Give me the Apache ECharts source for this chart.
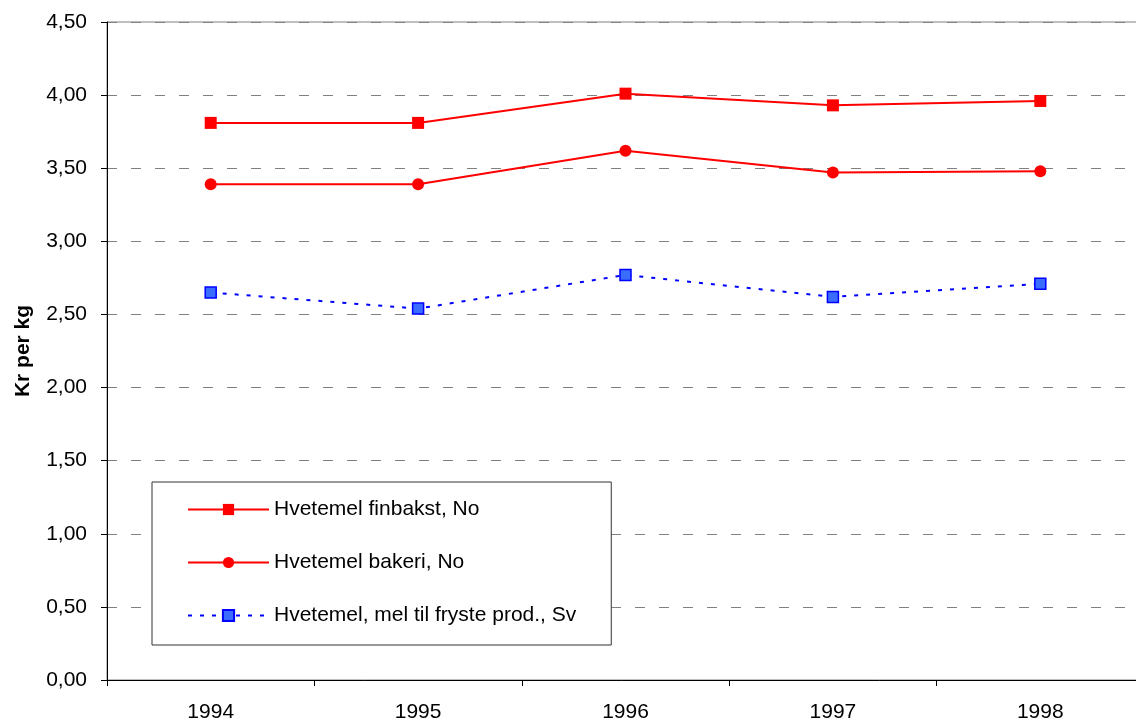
<!DOCTYPE html>
<html>
<head>
<meta charset="utf-8">
<script src="https://cdn.jsdelivr.net/npm/echarts@6/dist/echarts.min.js"></script>
<style>
  html, body { margin: 0; padding: 0; background: #fff; }
  #chart { width: 1136px; height: 724px; }
</style>
</head>
<body>
<div id="chart"></div>
<script>
const years = ['1994', '1995', '1996', '1997', '1998'];
const finbakst = [3.81, 3.81, 4.01, 3.93, 3.96];
const bakeri = [3.39, 3.39, 3.62, 3.47, 3.48];
const frysteProd = [2.65, 2.54, 2.77, 2.62, 2.71];

const chart = echarts.init(document.getElementById('chart'));

chart.setOption({
    animation: false,
    textStyle: { fontFamily: 'Liberation Sans, Arial, sans-serif' },
    grid: {
        left: 107, top: 22, bottom: 44, width: 1037,
        outerBoundsMode: 'none',
        show: true, borderColor: '#808080', borderWidth: 1,
    },
    legend: {
        orient: 'vertical',
        left: 152,
        top: 482,
        padding: [17, 35, 19, 35],
        itemGap: 32,
        itemWidth: 81,
        itemHeight: 14,
        backgroundColor: '#fff',
        borderColor: '#333',
        borderWidth: 1,
        textStyle: { fontSize: 21, color: '#000' },
        data: ['Hvetemel finbakst, No', 'Hvetemel bakeri, No', 'Hvetemel, mel til fryste prod., Sv'],
    },
    xAxis: {
        type: 'category',
        data: years,
        boundaryGap: true,
        axisLine: { lineStyle: { color: '#000', width: 1 } },
        axisTick: { show: true, length: 6, lineStyle: { color: '#000' } },
        axisLabel: { fontSize: 21, color: '#000', margin: 22 },
    },
    yAxis: {
        type: 'value',
        min: 0,
        max: 4.5,
        interval: 0.5,
        name: 'Kr per kg',
        nameLocation: 'middle',
        nameGap: 73,
        nameTextStyle: { fontSize: 21, fontWeight: 'bold', color: '#000' },
        axisLine: { show: true, lineStyle: { color: '#000', width: 1 } },
        axisTick: { show: true, length: 6, lineStyle: { color: '#000' } },
        axisLabel: {
            fontSize: 21, color: '#000', margin: 20,
            formatter: (v) => v.toFixed(2).replace('.', ','),
        },
        splitLine: { lineStyle: { color: '#808080', type: [10, 14], width: 1 } },
    },
    series: [
        {
            name: 'Hvetemel finbakst, No',
            type: 'line',
            data: finbakst,
            symbol: 'rect',
            symbolSize: 12,
            itemStyle: { color: '#ff0000' },
            lineStyle: { color: '#ff0000', width: 2 },
        },
        {
            name: 'Hvetemel bakeri, No',
            type: 'line',
            data: bakeri,
            symbol: 'circle',
            symbolSize: 12,
            itemStyle: { color: '#ff0000' },
            lineStyle: { color: '#ff0000', width: 2 },
        },
        {
            name: 'Hvetemel, mel til fryste prod., Sv',
            type: 'line',
            data: frysteProd,
            symbol: 'rect',
            symbolSize: 11,
            itemStyle: { color: '#3a6cff', borderColor: '#0000ff', borderWidth: 1.5 },
            lineStyle: { color: '#0000ff', width: 2, type: [4, 8] },
        },
    ],
});
</script>
</body>
</html>
